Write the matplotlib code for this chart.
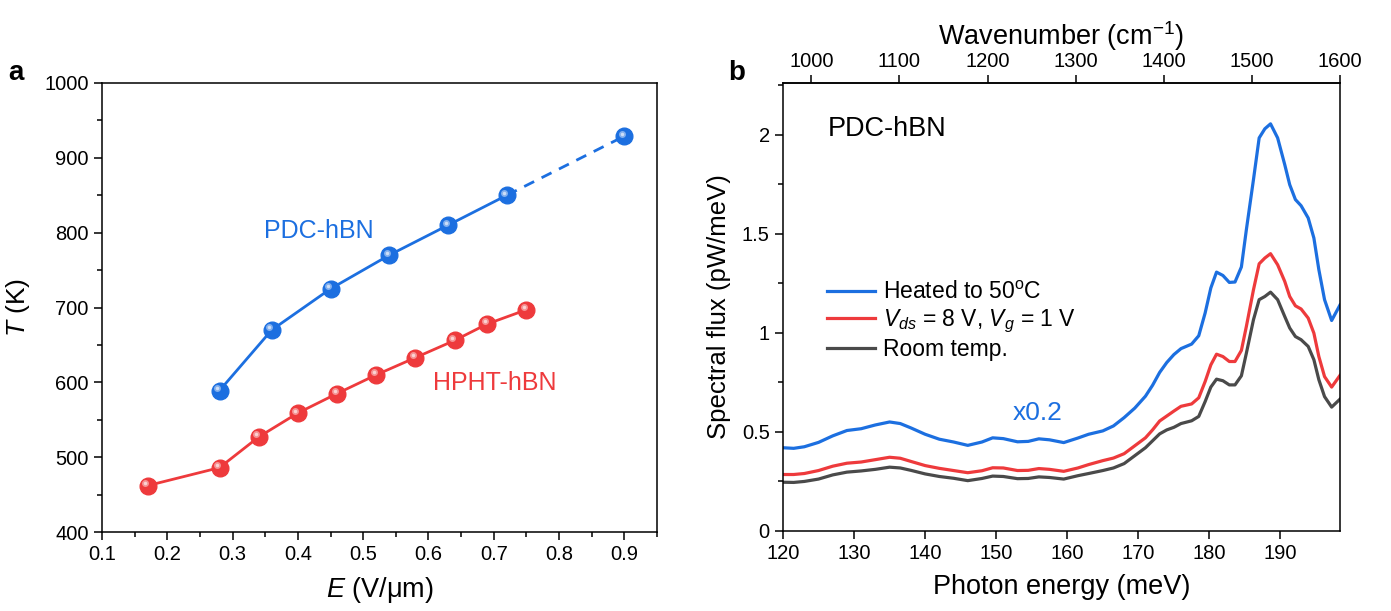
import matplotlib
matplotlib.use("Agg")
import matplotlib.pyplot as plt
import matplotlib.transforms as mtransforms
from matplotlib.ticker import MultipleLocator

plt.rcParams['font.family'] = ['Liberation Sans', 'DejaVu Sans']
plt.rcParams['mathtext.fontset'] = 'custom'
plt.rcParams['mathtext.rm'] = 'Liberation Sans'
plt.rcParams['mathtext.it'] = 'Liberation Sans:italic'
plt.rcParams['axes.linewidth'] = 1.1

# panel a: temperature vs field
pdc_E = [0.28, 0.36, 0.45, 0.54, 0.63, 0.72]
pdc_T = [589, 670, 725, 770, 810, 850]
pdc_E_extra = 0.9
pdc_T_extra = 929
hpht_E = [0.17, 0.28, 0.34, 0.40, 0.46, 0.52, 0.58, 0.64, 0.69, 0.75]
hpht_T = [462, 486, 527, 559, 585, 610, 633, 656, 678, 697]

# panel b: spectra (meV)
energy = [120, 121.5, 123, 125, 127, 129, 131, 133, 135, 136.5, 138, 140, 142, 144,
          146, 148, 149.5, 151, 153, 154.5, 156, 157.5, 159.5, 161.5, 163, 165,
          166.5, 168, 169.5, 171, 172, 173, 174, 175, 176, 177.5, 178.5, 179.4,
          180.2, 181, 181.9, 182.8, 183.6, 184.5, 185.2, 186.2, 187, 187.8, 188.6,
          189.6, 190.6, 191.3, 192.1, 192.9, 193.9, 194.7, 195.4, 196.2, 197.2, 198.37]
heated = [0.42, 0.417, 0.425, 0.447, 0.48, 0.507, 0.516, 0.535, 0.55, 0.542, 0.52,
          0.488, 0.463, 0.449, 0.432, 0.449, 0.47, 0.466, 0.45, 0.452, 0.465, 0.46,
          0.446, 0.469, 0.488, 0.505, 0.53, 0.572, 0.62, 0.68, 0.735, 0.8, 0.85,
          0.89, 0.92, 0.943, 0.985, 1.1, 1.226, 1.306, 1.289, 1.254, 1.256, 1.332,
          1.52, 1.773, 1.983, 2.029, 2.054, 1.983, 1.848, 1.747, 1.672, 1.641,
          1.579, 1.478, 1.318, 1.167, 1.062, 1.14]
biased = [0.285, 0.285, 0.29, 0.305, 0.327, 0.342, 0.348, 0.36, 0.372, 0.367, 0.351,
          0.33, 0.316, 0.305, 0.294, 0.304, 0.319, 0.318, 0.305, 0.306, 0.315, 0.311,
          0.301, 0.318, 0.335, 0.355, 0.368, 0.39, 0.43, 0.47, 0.51, 0.555, 0.58,
          0.605, 0.629, 0.641, 0.672, 0.754, 0.838, 0.892, 0.88, 0.855, 0.855, 0.911,
          1.032, 1.217, 1.348, 1.377, 1.399, 1.343, 1.259, 1.183, 1.136, 1.12,
          1.074, 0.998, 0.88, 0.779, 0.726, 0.785]
room = [0.246, 0.245, 0.25, 0.262, 0.283, 0.297, 0.303, 0.311, 0.322, 0.318, 0.306,
        0.288, 0.275, 0.266, 0.254, 0.265, 0.277, 0.275, 0.264, 0.265, 0.273, 0.27,
        0.262, 0.279, 0.29, 0.305, 0.318, 0.34, 0.38, 0.42, 0.455, 0.49, 0.51,
        0.523, 0.542, 0.556, 0.578, 0.653, 0.726, 0.766, 0.758, 0.737, 0.737, 0.783,
        0.897, 1.066, 1.167, 1.183, 1.205, 1.167, 1.082, 1.024, 0.981, 0.965,
        0.931, 0.864, 0.763, 0.678, 0.625, 0.665]

blue = '#1c6fe0'
red = '#ee3a3c'
gray = '#4a4a4a'
MEV_TO_CM = 8.06554

fig = plt.figure(figsize=(13.91, 6.11), dpi=100)
ax1 = fig.add_axes([102/1391, 79/611, 555/1391, 449/611])
ax2 = fig.add_axes([783/1391, 80/611, 557/1391, 448/611])


def spheres(ax, x, y, color):
    # ball-like markers: solid disc plus a small offset highlight
    ax.plot(x, y, 'o', ms=12, color=color, mec=color, zorder=3)
    off = mtransforms.ScaledTranslation(-1.8/72, 1.8/72, fig.dpi_scale_trans)
    ax.plot(x, y, 'o', ms=5, color='white', alpha=0.45, mew=0,
            transform=ax.transData + off, zorder=4)
    ax.plot(x, y, 'o', ms=2.5, color='white', alpha=0.6, mew=0,
            transform=ax.transData + off, zorder=5)


ax1.plot(pdc_E, pdc_T, color=blue, lw=2)
ax1.plot([pdc_E[-1], pdc_E_extra], [pdc_T[-1], pdc_T_extra], color=blue, lw=2,
         ls=(0, (4, 3)))
ax1.plot(hpht_E, hpht_T, color=red, lw=2)
spheres(ax1, pdc_E + [pdc_E_extra], pdc_T + [pdc_T_extra], blue)
spheres(ax1, hpht_E, hpht_T, red)

ax1.set_xlim(0.1, 0.95)
ax1.set_ylim(400, 1000)
ax1.xaxis.set_minor_locator(MultipleLocator(0.05))
ax1.yaxis.set_major_locator(MultipleLocator(100))
ax1.yaxis.set_minor_locator(MultipleLocator(50))
ax1.set_xticks([0.1, 0.2, 0.3, 0.4, 0.5, 0.6, 0.7, 0.8, 0.9])
ax1.set_xticklabels(['0.1', '0.2', '0.3', '0.4', '0.5', '0.6', '0.7', '0.8', '0.9'])
ax1.tick_params(which='both', direction='out', width=1.1, labelsize=14.5, top=False, right=False)
ax1.tick_params(which='major', length=6)
ax1.tick_params(which='minor', length=3.5)
ax1.set_xlabel(r'$\it{E}$ (V/μm)', fontsize=19.5, labelpad=8)
ax1.set_ylabel(r'$\it{T}$ (K)', fontsize=19, labelpad=9)
ax1.text(0.348, 802, 'PDC-hBN', color=blue, fontsize=18, va='center', ha='left')
ax1.text(0.607, 599, 'HPHT-hBN', color=red, fontsize=18, va='center', ha='left')

ax2.plot(energy, heated, color=blue, lw=2.3, label=r'Heated to 50$^\mathrm{o}$C')
ax2.plot(energy, biased, color=red, lw=2.3, label=r'$V_{ds}$ = 8 V, $V_g$ = 1 V')
ax2.plot(energy, room, color=gray, lw=2.3, label='Room temp.')
ax2.set_xlim(120, 1600/MEV_TO_CM)
ax2.set_ylim(0, 2.26)
ax2.xaxis.set_major_locator(MultipleLocator(10))
ax2.yaxis.set_minor_locator(MultipleLocator(0.25))
ax2.set_yticks([0, 0.5, 1, 1.5, 2])
ax2.set_yticklabels(['0', '0.5', '1', '1.5', '2'])
ax2.tick_params(which='both', direction='out', width=1.1, labelsize=14.5, top=False, right=False)
ax2.tick_params(which='major', length=6)
ax2.tick_params(which='minor', length=3.5)
ax2.set_xlabel('Photon energy (meV)', fontsize=19.5, labelpad=8)
ax2.set_ylabel('Spectral flux (pW/meV)', fontsize=18.5, labelpad=8)
ax2.text(126.3, 2.03, 'PDC-hBN', fontsize=19.5, va='center', ha='left')
ax2.text(155.8, 0.595, 'x0.2', color=blue, fontsize=19, va='center', ha='center')
ax2.legend(loc='upper left', bbox_to_anchor=(0.063, 0.578), frameon=False, fontsize=16.5,
           handlelength=2.1, handletextpad=0.35, labelspacing=0.15, borderaxespad=0)

top = ax2.secondary_xaxis('top', functions=(lambda e: e*MEV_TO_CM, lambda w: w/MEV_TO_CM))
top.set_xticks([1000, 1100, 1200, 1300, 1400, 1500, 1600])
top.tick_params(direction='out', length=6, width=1.1, labelsize=14.5, pad=2.5)
top.set_xlabel('Wavenumber (cm$^{\\mathrm{-1}}$)', fontsize=19.5, labelpad=5)

fig.text(8/1391, 1 - 73/611, 'a', fontsize=20, fontweight='bold', va='center')
fig.text(728/1391, 1 - 73/611, 'b', fontsize=20, fontweight='bold', va='center')

fig.savefig('out.png', dpi=100)
